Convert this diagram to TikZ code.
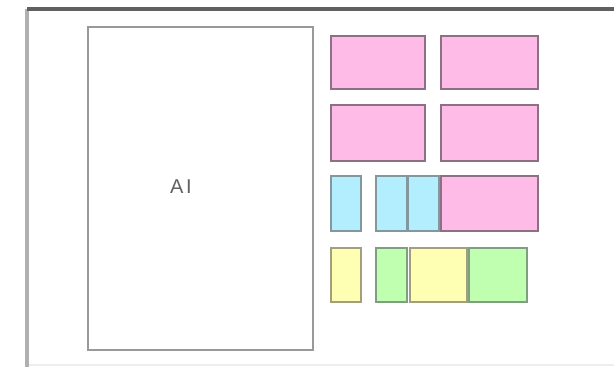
\documentclass[tikz,border=0pt]{standalone}
\usepackage{fontspec}
\setmainfont{Liberation Sans}
\definecolor{pinkf}{HTML}{FFBBE8}
\definecolor{pinkd}{HTML}{8E7085}
\definecolor{bluef}{HTML}{B3EEFF}
\definecolor{blued}{HTML}{83989E}
\definecolor{yelf}{HTML}{FFFFB3}
\definecolor{yeld}{HTML}{A2A07C}
\definecolor{grnf}{HTML}{C0FFB0}
\definecolor{grnd}{HTML}{7FA07F}
\definecolor{aibord}{HTML}{999999}
\definecolor{topline}{HTML}{606060}
\definecolor{leftline}{HTML}{B0B0B0}
\definecolor{botline}{HTML}{EEEEEE}
\tikzset{
  tile/.style={rectangle, inner sep=0pt, outer sep=0pt, line width=2pt},
  pinktile/.style={tile, fill=pinkf, draw=pinkd},
  bluetile/.style={tile, fill=bluef, draw=blued},
  yeltile/.style={tile, fill=yelf, draw=yeld},
  grntile/.style={tile, fill=grnf, draw=grnd},
  aibox/.style={rectangle, inner sep=0pt, draw=aibord, line width=1.9pt, fill=white}
}
\begin{document}
\begin{tikzpicture}[x=0.75pt,y=-0.75pt]
\useasboundingbox (0,0) rectangle (614,367);
\fill[white] (0,0) rectangle (614,367);
% frame
\coordinate (ftl) at (27,9);
\coordinate (ftr) at (614,9);
\coordinate (fbl) at (27,367);
\coordinate (bl) at (27,365);
\coordinate (br) at (614,365);
\draw[botline, line width=1.5pt] (bl) -- (br);
\draw[leftline, line width=2.4pt] (ftl) -- (fbl);
\draw[topline, line width=3pt] (ftl) -- (ftr);
% AI box
\node[aibox, minimum width=168.75pt, minimum height=242.25pt] (ai) at (200.5,188.5) {};
\node[text=black!62, font=\fontsize{15pt}{17pt}\selectfont] (ailabel) at (181,187) {A\kern2pt I};
% row 1
\node[pinktile, minimum width=70.5pt, minimum height=39.75pt] (p1) at (378,62.5) {};
\node[pinktile, minimum width=72.75pt, minimum height=39.75pt] (p2) at (489.5,62.5) {};
% row 2
\node[pinktile, minimum width=70.5pt, minimum height=42pt] (p3) at (378,133) {};
\node[pinktile, minimum width=72.75pt, minimum height=42pt] (p4) at (489.5,133) {};
% row 3
\node[bluetile, minimum width=22.5pt, minimum height=41.25pt] (b1) at (346,203.5) {};
\node[bluetile, minimum width=23.25pt, minimum height=41.25pt] (b2) at (391.5,203.5) {};
\node[bluetile, minimum width=23.25pt, minimum height=41.25pt] (b3) at (423.5,203.5) {};
\node[pinktile, minimum width=72.75pt, minimum height=41.25pt] (p5) at (489.5,203.5) {};
% row 4
\node[yeltile, minimum width=22.5pt, minimum height=40.5pt] (y1) at (346,275) {};
\node[grntile, minimum width=23.25pt, minimum height=40.5pt] (g1) at (391.5,275) {};
\node[yeltile, minimum width=42.75pt, minimum height=40.5pt] (y2) at (438.5,275) {};
\node[grntile, minimum width=43.5pt, minimum height=40.5pt] (g2) at (498,275) {};
\end{tikzpicture}
\end{document}
